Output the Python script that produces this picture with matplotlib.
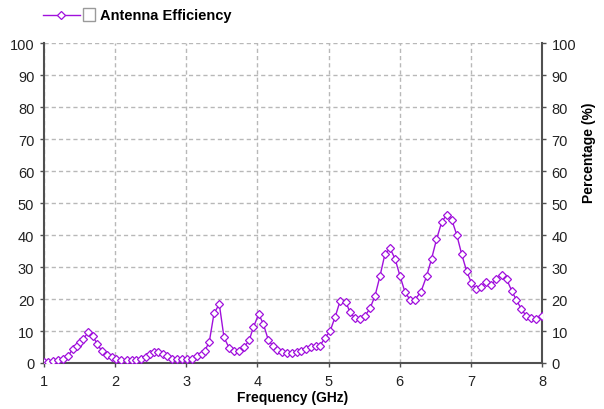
import matplotlib
matplotlib.use("Agg")
import matplotlib.pyplot as plt
from matplotlib.lines import Line2D
from matplotlib.patches import Rectangle

plt.rcParams['font.family'] = ['Liberation Sans', 'DejaVu Sans']
plt.rcParams['font.size'] = 10

# sweep points (GHz) and measured efficiency (%)
freq_ghz = [
    1.000, 1.060, 1.131, 1.201, 1.271, 1.342, 1.403, 1.460, 1.506, 1.552,
    1.623, 1.689, 1.752, 1.811, 1.881, 1.952, 2.019, 2.089, 2.160, 2.230,
    2.300, 2.364, 2.427, 2.490, 2.546, 2.607, 2.669, 2.733, 2.795, 2.865,
    2.936, 3.006, 3.076, 3.146, 3.217, 3.263, 3.324, 3.390, 3.464, 3.530,
    3.605, 3.671, 3.741, 3.812, 3.886, 3.942, 4.018, 4.083, 4.153, 4.215,
    4.279, 4.350, 4.420, 4.490, 4.552, 4.613, 4.683, 4.753, 4.819, 4.880,
    4.950, 5.020, 5.091, 5.161, 5.245, 5.301, 5.372, 5.442, 5.512, 5.583,
    5.653, 5.723, 5.793, 5.864, 5.934, 6.004, 6.075, 6.145, 6.215, 6.299,
    6.377, 6.447, 6.517, 6.590, 6.661, 6.731, 6.801, 6.871, 6.942, 7.009,
    7.072, 7.147, 7.217, 7.288, 7.358, 7.434, 7.504, 7.574, 7.639, 7.709,
    7.775, 7.850, 7.920, 8.000,
]
efficiency = [
    0.2, 0.3, 0.6, 0.8, 1.3, 2.2, 4.4, 5.4, 6.5, 7.5,
    9.7, 8.3, 5.8, 3.8, 2.5, 1.8, 1.3, 1.0, 1.0, 1.0,
    1.0, 1.1, 2.0, 2.8, 3.3, 3.5, 2.8, 2.1, 1.4, 1.2,
    1.2, 1.2, 1.3, 2.1, 2.8, 3.9, 6.7, 15.5, 18.4, 8.0,
    4.6, 3.9, 3.9, 4.9, 7.2, 11.1, 15.3, 12.2, 7.2, 5.4,
    4.2, 3.3, 3.1, 3.1, 3.3, 3.9, 4.4, 4.9, 5.2, 5.4,
    7.9, 9.9, 14.3, 19.3, 19.0, 15.8, 14.0, 13.8, 14.7, 17.1,
    21.0, 27.2, 34.1, 35.8, 32.6, 27.2, 22.1, 19.8, 19.8, 22.3,
    27.1, 32.5, 38.6, 44.0, 46.4, 44.8, 40.1, 34.0, 28.6, 25.0,
    23.2, 23.6, 25.2, 24.5, 26.2, 27.6, 26.1, 22.6, 19.7, 16.9,
    14.8, 14.0, 13.9, 14.7,
]
x_ticks = [1, 2, 3, 4, 5, 6, 7, 8]
y_ticks = [0, 10, 20, 30, 40, 50, 60, 70, 80, 90, 100]
series_name = 'Antenna Efficiency'

purple = '#a010dc'
spine_col = '#505050'

fig = plt.figure(figsize=(6.04, 4.10), dpi=100)
ax = fig.add_axes([44 / 604, 1 - 364 / 410, 498 / 604, 320 / 410])

ax.plot(freq_ghz, efficiency, color=purple, lw=1.0, marker='D', ms=3.6,
        mfc='white', mec=purple, mew=0.9, zorder=3)

ax.set_xlim(1, 8)
ax.set_ylim(0, 100)
ax.set_xticks(x_ticks)
ax.set_yticks(y_ticks)
ax.grid(True, color='#b8b8b8', lw=1.0, ls=(0, (3, 2.2)))
ax.set_axisbelow(True)

for side in ['left', 'right', 'bottom']:
    ax.spines[side].set_color(spine_col)
    ax.spines[side].set_linewidth(1.5)
ax.spines['top'].set_visible(False)

ax.tick_params(axis='both', colors=spine_col, labelcolor='#222222',
               length=3, width=1, labelsize=10.5)
ax.tick_params(axis='y', left=True, right=True, labelleft=True,
               labelright=True, pad=4)
ax.tick_params(axis='x', pad=5)

ax.set_xlabel('Frequency (GHz)', fontweight='bold', fontsize=10)
ax.xaxis.set_label_coords(0.5, -0.085)
fig.text(589 / 604, 1 - 153 / 410, 'Percentage (%)', rotation=90,
         ha='center', va='center', fontweight='bold', fontsize=10)

# legend: line sample with marker, checkbox, name
ly = 1 - 16 / 410
fig.add_artist(Line2D([43 / 604, 80 / 604], [ly, ly], color=purple, lw=1.0))
fig.add_artist(Line2D([61 / 604], [ly], marker='D', ms=3.6, mfc='white',
                      mec=purple, mew=0.9, color=purple))
fig.add_artist(Rectangle((83 / 604, 1 - 22 / 410), 12 / 604, 13 / 410,
                         transform=fig.transFigure, facecolor='white',
                         edgecolor='#9a9a9a', lw=1.0))
fig.text(100 / 604, ly, series_name, ha='left', va='center',
         fontweight='bold', fontsize=10.5)

fig.savefig('out.png', dpi=100)
